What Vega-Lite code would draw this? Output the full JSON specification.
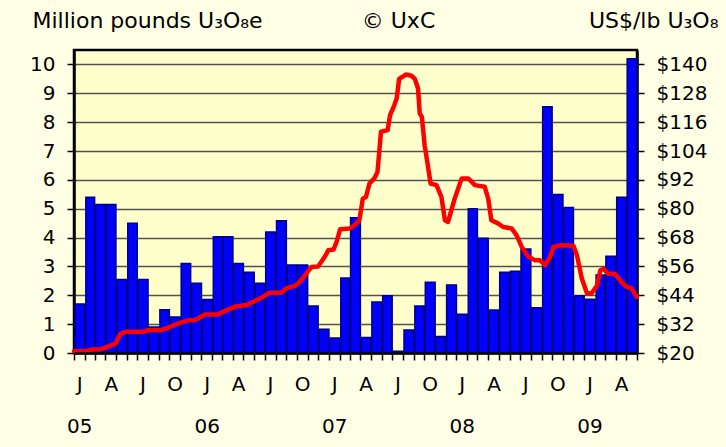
{
  "$schema": "https://vega.github.io/schema/vega-lite/v6.json",
  "width": 563,
  "height": 303,
  "autosize": {"type": "none"},
  "padding": {"left": 74, "top": 50, "right": 89, "bottom": 94},
  "background": "#FFFFE6",
  "config": {
    "font": "DejaVu Sans",
    "view": {"fill": "#FFFFCC", "stroke": "#000000", "strokeWidth": 2.5}
  },
  "datasets": {
    "volume": [
      {"month": "2005-01-01", "vol": 1.7},
      {"month": "2005-02-01", "vol": 5.4},
      {"month": "2005-03-01", "vol": 5.15},
      {"month": "2005-04-01", "vol": 5.15},
      {"month": "2005-05-01", "vol": 2.55},
      {"month": "2005-06-01", "vol": 4.5},
      {"month": "2005-07-01", "vol": 2.55},
      {"month": "2005-08-01", "vol": 0.9},
      {"month": "2005-09-01", "vol": 1.5},
      {"month": "2005-10-01", "vol": 1.25},
      {"month": "2005-11-01", "vol": 3.1},
      {"month": "2005-12-01", "vol": 2.42},
      {"month": "2006-01-01", "vol": 1.85},
      {"month": "2006-02-01", "vol": 4.03},
      {"month": "2006-03-01", "vol": 4.03},
      {"month": "2006-04-01", "vol": 3.1},
      {"month": "2006-05-01", "vol": 2.8},
      {"month": "2006-06-01", "vol": 2.42},
      {"month": "2006-07-01", "vol": 4.19},
      {"month": "2006-08-01", "vol": 4.58},
      {"month": "2006-09-01", "vol": 3.05},
      {"month": "2006-10-01", "vol": 3.05},
      {"month": "2006-11-01", "vol": 1.63},
      {"month": "2006-12-01", "vol": 0.82},
      {"month": "2007-01-01", "vol": 0.52},
      {"month": "2007-02-01", "vol": 2.6},
      {"month": "2007-03-01", "vol": 4.69},
      {"month": "2007-04-01", "vol": 0.54},
      {"month": "2007-05-01", "vol": 1.77},
      {"month": "2007-06-01", "vol": 1.98},
      {"month": "2007-07-01", "vol": 0.06},
      {"month": "2007-08-01", "vol": 0.8},
      {"month": "2007-09-01", "vol": 1.63},
      {"month": "2007-10-01", "vol": 2.45},
      {"month": "2007-11-01", "vol": 0.57},
      {"month": "2007-12-01", "vol": 2.36},
      {"month": "2008-01-01", "vol": 1.34},
      {"month": "2008-02-01", "vol": 5.0},
      {"month": "2008-03-01", "vol": 3.98},
      {"month": "2008-04-01", "vol": 1.49},
      {"month": "2008-05-01", "vol": 2.8},
      {"month": "2008-06-01", "vol": 2.83},
      {"month": "2008-07-01", "vol": 3.6},
      {"month": "2008-08-01", "vol": 1.57},
      {"month": "2008-09-01", "vol": 8.53},
      {"month": "2008-10-01", "vol": 5.49},
      {"month": "2008-11-01", "vol": 5.04},
      {"month": "2008-12-01", "vol": 1.98},
      {"month": "2009-01-01", "vol": 1.86},
      {"month": "2009-02-01", "vol": 2.7},
      {"month": "2009-03-01", "vol": 3.35},
      {"month": "2009-04-01", "vol": 5.4},
      {"month": "2009-05-01", "vol": 10.2}
    ],
    "price": [
      {"d": "2005-01-01", "p": 20.7},
      {"d": "2005-02-01", "p": 20.7},
      {"d": "2005-02-23", "p": 21.5},
      {"d": "2005-03-18", "p": 21.6},
      {"d": "2005-04-07", "p": 22.5},
      {"d": "2005-04-30", "p": 24},
      {"d": "2005-05-14", "p": 28},
      {"d": "2005-05-29", "p": 28.8},
      {"d": "2005-07-21", "p": 28.8},
      {"d": "2005-07-31", "p": 29.5},
      {"d": "2005-09-07", "p": 29.5},
      {"d": "2005-09-26", "p": 30.4},
      {"d": "2005-10-25", "p": 32.2},
      {"d": "2005-11-23", "p": 33.6},
      {"d": "2005-12-13", "p": 33.6},
      {"d": "2006-01-11", "p": 36},
      {"d": "2006-02-17", "p": 36},
      {"d": "2006-03-08", "p": 37.4},
      {"d": "2006-04-06", "p": 39.2},
      {"d": "2006-05-13", "p": 40.1},
      {"d": "2006-06-07", "p": 41.9},
      {"d": "2006-06-26", "p": 43.3},
      {"d": "2006-07-15", "p": 45.1},
      {"d": "2006-08-18", "p": 45.1},
      {"d": "2006-09-02", "p": 47},
      {"d": "2006-09-25", "p": 47.9},
      {"d": "2006-10-09", "p": 49.5},
      {"d": "2006-10-28", "p": 53},
      {"d": "2006-11-12", "p": 55.8},
      {"d": "2006-12-01", "p": 56},
      {"d": "2006-12-20", "p": 60},
      {"d": "2006-12-30", "p": 62.7},
      {"d": "2007-01-14", "p": 63},
      {"d": "2007-01-23", "p": 66.2},
      {"d": "2007-02-02", "p": 71.5},
      {"d": "2007-03-01", "p": 71.8},
      {"d": "2007-03-15", "p": 73.1},
      {"d": "2007-03-29", "p": 75.2},
      {"d": "2007-04-08", "p": 84.2},
      {"d": "2007-04-17", "p": 84.9},
      {"d": "2007-04-27", "p": 90.5},
      {"d": "2007-05-11", "p": 92.6},
      {"d": "2007-05-20", "p": 95.3},
      {"d": "2007-05-30", "p": 112},
      {"d": "2007-06-18", "p": 112.7},
      {"d": "2007-06-25", "p": 118.9},
      {"d": "2007-07-07", "p": 123},
      {"d": "2007-07-14", "p": 125.9},
      {"d": "2007-07-21", "p": 134},
      {"d": "2007-08-10", "p": 135.8},
      {"d": "2007-08-25", "p": 135.3},
      {"d": "2007-09-04", "p": 134},
      {"d": "2007-09-13", "p": 130},
      {"d": "2007-09-18", "p": 119.6},
      {"d": "2007-09-24", "p": 118.2},
      {"d": "2007-10-02", "p": 106.4},
      {"d": "2007-10-11", "p": 98.1},
      {"d": "2007-10-19", "p": 90.5},
      {"d": "2007-11-05", "p": 89.8},
      {"d": "2007-11-19", "p": 84.9},
      {"d": "2007-11-29", "p": 75.2},
      {"d": "2007-12-08", "p": 74.5},
      {"d": "2007-12-27", "p": 84.2},
      {"d": "2008-01-16", "p": 92.6},
      {"d": "2008-02-04", "p": 92.6},
      {"d": "2008-02-23", "p": 89.8},
      {"d": "2008-03-22", "p": 89.1},
      {"d": "2008-04-01", "p": 84.2},
      {"d": "2008-04-10", "p": 75.2},
      {"d": "2008-04-29", "p": 73.9},
      {"d": "2008-05-14", "p": 72.4},
      {"d": "2008-06-07", "p": 71.8},
      {"d": "2008-06-21", "p": 69},
      {"d": "2008-07-06", "p": 64.1},
      {"d": "2008-07-25", "p": 60},
      {"d": "2008-08-13", "p": 58.6},
      {"d": "2008-08-27", "p": 58.6},
      {"d": "2008-09-11", "p": 56.5},
      {"d": "2008-09-25", "p": 60},
      {"d": "2008-10-05", "p": 64.1},
      {"d": "2008-10-24", "p": 64.8},
      {"d": "2008-12-01", "p": 64.6},
      {"d": "2008-12-11", "p": 60.7},
      {"d": "2008-12-25", "p": 51},
      {"d": "2009-01-09", "p": 44.7},
      {"d": "2009-01-23", "p": 45},
      {"d": "2009-02-07", "p": 48.2},
      {"d": "2009-02-16", "p": 54.4},
      {"d": "2009-02-25", "p": 55},
      {"d": "2009-03-10", "p": 53},
      {"d": "2009-03-29", "p": 53},
      {"d": "2009-04-18", "p": 49.5},
      {"d": "2009-05-02", "p": 47.5},
      {"d": "2009-05-16", "p": 47},
      {"d": "2009-05-31", "p": 43.3}
    ]
  },
  "layer": [
    {
      "data": {"name": "volume"},
      "mark": {"type": "bar", "fill": "#0000FF", "stroke": "#000080", "strokeWidth": 1.5},
      "encoding": {
        "x": {
          "field": "month",
          "type": "temporal",
          "timeUnit": "utcyearmonth",
          "scale": {
            "type": "utc",
            "domain": [
              {"year": 2005, "month": 1, "date": 1, "utc": true},
              {"year": 2009, "month": 6, "date": 1, "utc": true}
            ]
          },
          "axis": {
            "title": "© UxC",
            "titleFont": "DejaVu Sans",
            "titleFontSize": 22,
            "titleFontWeight": "normal",
            "titleColor": "#000000",
            "titleAlign": "center",
            "titleBaseline": "alphabetic",
            "titleX": 324,
            "titleY": -326,
            "tickCount": {"interval": "month", "step": 1},
            "labelExpr": "utcmonth(datum.value) == 0 ? ['J', utcFormat(datum.value, '%y')] : (utcmonth(datum.value) % 3 == 0 ? slice(utcFormat(datum.value, '%b'), 0, 1) : '')",
            "labelOffset": 5.3,
            "labelAlign": "center",
            "labelFlush": false,
            "labelOverlap": false,
            "labelFontSize": 20,
            "labelColor": "#000000",
            "labelPadding": 14,
            "labelLineHeight": 42,
            "tickSize": 7,
            "tickWidth": 1.5,
            "tickColor": "#000000",
            "domain": true,
            "domainColor": "#000000",
            "domainWidth": 2.5,
            "grid": false,
            "zindex": 1
          }
        },
        "y": {
          "field": "vol",
          "type": "quantitative",
          "scale": {"domain": [0, 10.5], "nice": false, "zero": true},
          "axis": {
            "orient": "left",
            "values": [0, 1, 2, 3, 4, 5, 6, 7, 8, 9, 10],
            "title": "Million pounds U₃O₈e",
            "titleFont": "DejaVu Sans",
            "titleFontSize": 22,
            "titleFontWeight": "normal",
            "titleColor": "#000000",
            "titleAngle": 0,
            "titleAlign": "left",
            "titleBaseline": "alphabetic",
            "titleX": -42,
            "titleY": -23,
            "labelFontSize": 20,
            "labelColor": "#000000",
            "labelPadding": 12,
            "tickSize": 7,
            "tickWidth": 1.5,
            "tickColor": "#000000",
            "domainColor": "#000000",
            "domainWidth": 2.5,
            "grid": true,
            "gridColor": "#505050",
            "gridWidth": 1.3,
            "gridOpacity": 1
          }
        }
      }
    },
    {
      "data": {"name": "price"},
      "mark": {"type": "line", "color": "#FF0000", "strokeWidth": 4.5, "strokeJoin": "round", "strokeCap": "round"},
      "encoding": {
        "x": {"field": "d", "type": "temporal", "axis": null},
        "y": {
          "field": "p",
          "type": "quantitative",
          "scale": {"domain": [20, 146], "nice": false, "zero": false},
          "axis": {
            "orient": "right",
            "values": [20, 32, 44, 56, 68, 80, 92, 104, 116, 128, 140],
            "labelExpr": "'$' + datum.value",
            "title": "US$/lb U₃O₈",
            "titleFont": "DejaVu Sans",
            "titleFontSize": 22,
            "titleFontWeight": "normal",
            "titleColor": "#000000",
            "titleAngle": 0,
            "titleAlign": "right",
            "titleBaseline": "alphabetic",
            "titleX": 81,
            "titleY": -23,
            "labelFontSize": 20,
            "labelColor": "#000000",
            "labelPadding": 12,
            "tickSize": 7,
            "tickWidth": 1.5,
            "tickColor": "#000000",
            "domainColor": "#000000",
            "domainWidth": 2.5,
            "grid": false
          }
        }
      }
    }
  ],
  "resolve": {"scale": {"y": "independent"}, "axis": {"x": "independent"}}
}
